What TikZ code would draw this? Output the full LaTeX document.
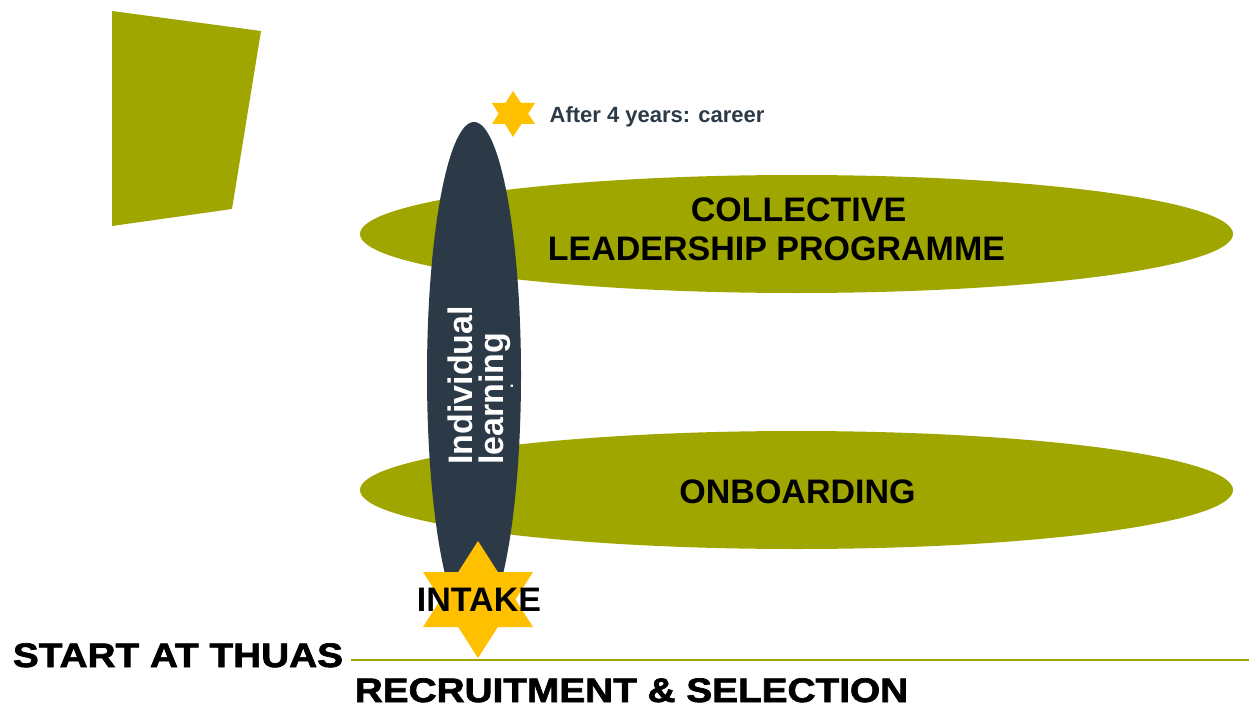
\documentclass[tikz,border=0pt]{standalone}
\usepackage{fontspec}
\setmainfont{Liberation Sans}
\newfontfamily\heavyfont[FakeStretch=1.14,BoldFeatures={FakeBold=2}]{Liberation Sans}

\definecolor{olivegreen}{RGB}{160,166,0}
\definecolor{slate}{RGB}{44,58,71}
\definecolor{gold}{RGB}{255,192,0}

\tikzset{
  label34/.style={inner sep=0pt, anchor=base, font=\fontsize{34}{31}\selectfont\bfseries},
  heavy34/.style={inner sep=0pt, anchor=base, font=\heavyfont\fontsize{34}{31}\selectfont\bfseries},
  vertlabel/.style={inner sep=0pt, anchor=base west, rotate=90, text=white,
    font=\fontsize{34}{31}\selectfont\bfseries},
}

\begin{document}
\begin{tikzpicture}[x=1pt,y=-1pt]
  \useasboundingbox (0,0) rectangle (1249,706);

  % olive quadrilateral, top left
  \fill[olivegreen] (112,11) -- (261,31) -- (232,209) -- (112,226) -- cycle;

  % programme ellipses
  \fill[olivegreen] (796.5,234) ellipse [x radius=436.5pt, y radius=59pt];
  \fill[olivegreen] (796.5,490) ellipse [x radius=436.5pt, y radius=59pt];

  % individual learning track
  \fill[slate] (474,375) ellipse [x radius=47pt, y radius=253pt];

  % small career star
  \fill[gold] (513,91) -- (535,124) -- (492,124) -- cycle;
  \fill[gold] (513,137) -- (492,103) -- (535,103) -- cycle;

  % intake star
  \fill[gold] (478,541) -- (533,627) -- (423,627) -- cycle;
  \fill[gold] (478,658) -- (423,572) -- (533,572) -- cycle;

  % time line
  \coordinate (lineL) at (351,660);
  \coordinate (lineR) at (1249,660);
  \draw[olivegreen, line width=2.5pt] (lineL) -- (lineR);

  % labels
  \node[inner sep=0pt, anchor=base west, text=slate,
        font=\fontsize{22}{24}\selectfont\bfseries] (career) at (549.5,122) {After 4 years: career};
  \node[label34] (collective) at (798.5,221) {COLLECTIVE};
  \node[label34] (leadership) at (776.5,260) {LEADERSHIP PROGRAMME};
  \node[label34] (onboarding) at (797.5,503) {ONBOARDING};
  \node[label34] (intake) at (479,611.5) {INTAKE};
  \node[vertlabel] (individual) at (472,465) {Individual};
  \node[vertlabel] (learning) at (503,465) {learning};
  \node[inner sep=0pt, anchor=base west, rotate=90, text=white,
        font=\fontsize{16}{16}\selectfont\bfseries] (stray) at (513,389) {.};
  \node[heavy34] (start) at (178,667) {START AT THUAS};
  \node[heavy34] (recruit) at (631.5,702) {RECRUITMENT \& SELECTION};
\end{tikzpicture}
\end{document}
